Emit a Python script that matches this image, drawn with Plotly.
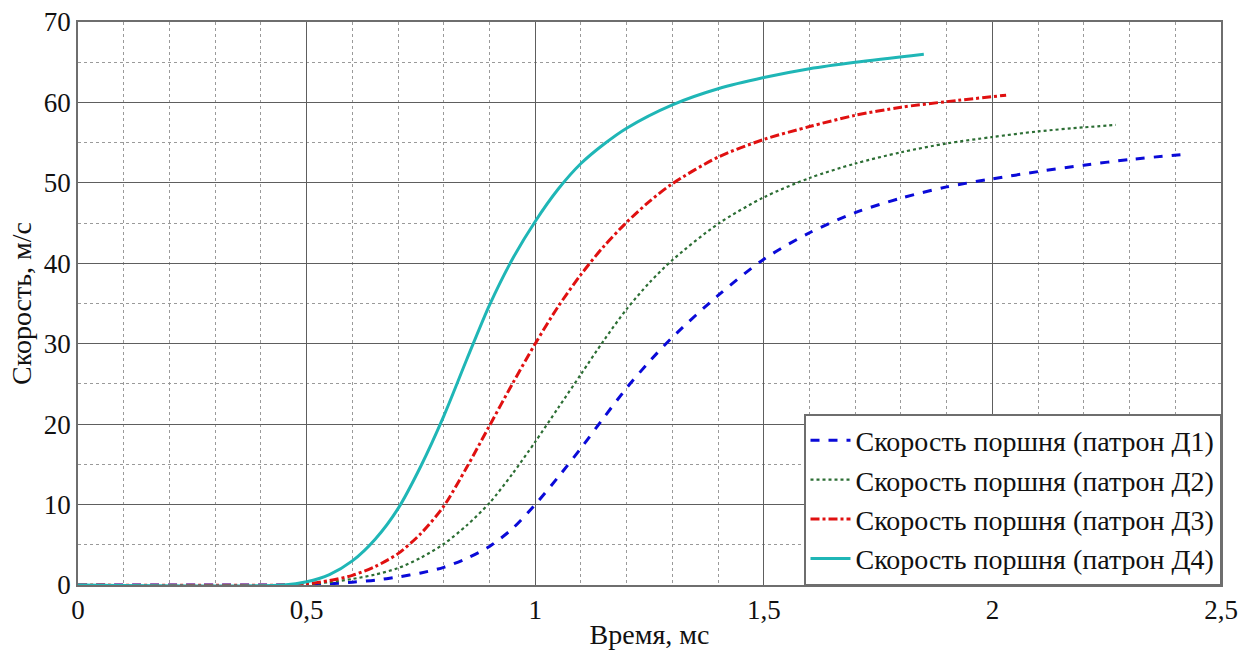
import plotly.graph_objects as go

# Время, мс / скорость поршня, м/с
t_d1 = [0, 0.45, 0.5, 0.55, 0.6, 0.65, 0.7, 0.75, 0.8, 0.85, 0.9, 0.95, 1.0, 1.05, 1.1, 1.15, 1.2, 1.25, 1.3, 1.4, 1.5, 1.6, 1.7, 1.8, 1.9, 2.0, 2.1, 2.2, 2.3, 2.43]
v_d1 = [0, 0, 0.05, 0.15, 0.35, 0.6, 1.0, 1.5, 2.2, 3.3, 4.8, 7.0, 10.0, 13.4, 17.0, 20.8, 24.5, 27.8, 30.8, 36.0, 40.5, 43.8, 46.3, 48.1, 49.5, 50.5, 51.4, 52.2, 52.9, 53.6]

t_d2 = [0, 0.45, 0.5, 0.55, 0.6, 0.65, 0.7, 0.75, 0.8, 0.85, 0.9, 0.95, 1.0, 1.05, 1.1, 1.15, 1.2, 1.25, 1.3, 1.4, 1.5, 1.6, 1.7, 1.8, 1.9, 2.0, 2.1, 2.2, 2.27]
v_d2 = [0, 0, 0.1, 0.35, 0.75, 1.3, 2.1, 3.4, 5.1, 7.4, 10.2, 13.8, 17.8, 22.0, 26.2, 30.4, 34.3, 37.6, 40.4, 44.9, 48.2, 50.6, 52.4, 53.8, 54.9, 55.7, 56.4, 56.9, 57.2]

t_d3 = [0, 0.45, 0.5, 0.55, 0.6, 0.65, 0.7, 0.75, 0.8, 0.85, 0.9, 0.95, 1.0, 1.05, 1.1, 1.15, 1.2, 1.25, 1.3, 1.4, 1.5, 1.6, 1.7, 1.8, 1.9, 2.03]
v_d3 = [0, 0, 0.15, 0.55, 1.2, 2.3, 3.9, 6.4, 9.8, 14.6, 19.8, 25.0, 30.0, 34.6, 38.6, 42.1, 45.1, 47.7, 49.9, 53.2, 55.4, 57.0, 58.4, 59.4, 60.1, 60.9]

t_d4 = [0, 0.45, 0.5, 0.55, 0.6, 0.65, 0.7, 0.75, 0.8, 0.85, 0.9, 0.95, 1.0, 1.05, 1.1, 1.15, 1.2, 1.3, 1.4, 1.5, 1.6, 1.7, 1.85]
v_d4 = [0, 0, 0.4, 1.3, 3.0, 5.7, 9.5, 14.8, 21.0, 28.0, 34.8, 40.5, 45.2, 49.2, 52.4, 54.8, 56.8, 59.7, 61.7, 63.1, 64.2, 65.0, 66.0]

names = [
    "Скорость поршня (патрон Д1)",
    "Скорость поршня (патрон Д2)",
    "Скорость поршня (патрон Д3)",
    "Скорость поршня (патрон Д4)",
]

series = [
    (t_d1, v_d1, names[0], "#0a0ad8", "dash", 3),
    (t_d2, v_d2, names[1], "#2c6e34", "dot", 2.2),
    (t_d3, v_d3, names[2], "#e01010", "dashdot", 3),
    (t_d4, v_d4, names[3], "#1fb6b6", "solid", 3),
]

FONT = "Liberation Serif"
TXT = "#111111"

fig = go.Figure()
for t, v, name, color, dash, width in series:
    fig.add_trace(go.Scatter(
        x=t, y=v, name=name, mode="lines",
        line=dict(color=color, dash=dash, width=width, shape="spline", smoothing=0.8),
    ))

axis_common = dict(
    showline=True, linecolor="#6e6e6e", linewidth=1.5, mirror=True,
    showgrid=True, gridcolor="#5e5e5e", gridwidth=1.2,
    zeroline=False, ticks="", automargin=False,
    tickfont=dict(family=FONT, size=27, color=TXT),
)

fig.update_xaxes(
    range=[0, 2.5], dtick=0.5, tick0=0,
    minor=dict(dtick=0.1, showgrid=True, griddash="dot", gridcolor="#9a9a9a", gridwidth=1),
    title=dict(text="Время, мс", font=dict(family=FONT, size=28, color=TXT), standoff=0),
    **axis_common,
)
fig.update_yaxes(
    range=[0, 70], dtick=10, tick0=0,
    minor=dict(dtick=5, showgrid=True, griddash="dot", gridcolor="#9a9a9a", gridwidth=1),
    title=dict(text="Скорость, м/с", font=dict(family=FONT, size=28, color=TXT), standoff=4),
    **axis_common,
)

fig.update_layout(
    width=1256, height=650,
    margin=dict(l=78, r=35, t=22, b=65),
    plot_bgcolor="white", paper_bgcolor="white",
    separators=", ",
    font=dict(family=FONT, size=27, color=TXT),
    legend=dict(
        x=1, y=0, xanchor="right", yanchor="bottom",
        bgcolor="white", bordercolor="#6e6e6e", borderwidth=1.5,
        font=dict(family=FONT, size=28, color=TXT),
        itemwidth=40, tracegroupgap=0,
    ),
    showlegend=True,
)

fig.write_html("out.html")
